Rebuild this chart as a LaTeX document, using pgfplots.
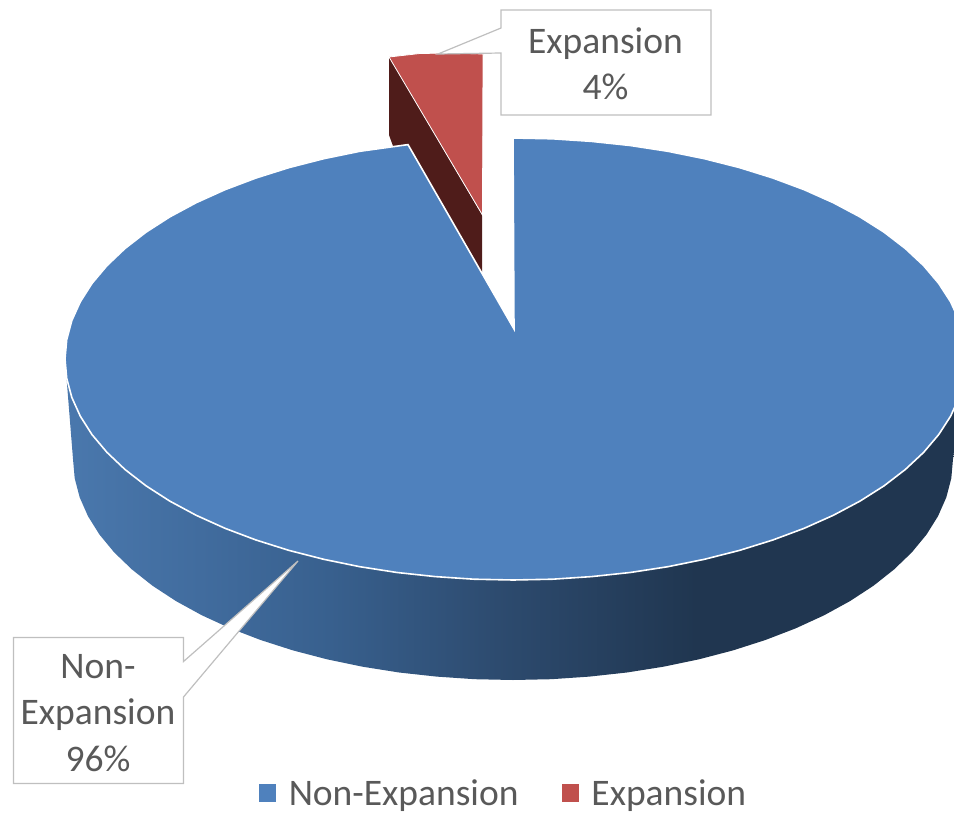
\documentclass[border=0pt]{standalone}
\usepackage{pgfplots}
\pgfplotsset{compat=1.18}
\usepackage{fontspec}
\setmainfont{Carlito}

\definecolor{pieblue}{HTML}{4F81BD}
\definecolor{piered}{HTML}{C0504D}
\definecolor{reddark}{HTML}{4F1C1A}
\definecolor{labelgray}{HTML}{595959}
\definecolor{boxgray}{HTML}{BFBFBF}
\definecolor{sa}{HTML}{4A78AD}
\definecolor{sb}{HTML}{416C9E}
\definecolor{sc}{HTML}{38608E}
\definecolor{sd}{HTML}{2D4B6F}
\definecolor{se}{HTML}{203650}

% side of the pie: 25bp is its left end, 75bp its right end
\pgfdeclarehorizontalshading{pieside}{100bp}{
  color(0bp)=(sa); color(25bp)=(sa); color(32.5bp)=(sb); color(39.7bp)=(sc);
  color(49bp)=(sd); color(60bp)=(se); color(100bp)=(se)}

\newcommand{\lbl}{\fontsize{37.5}{46}\selectfont\color{labelgray}}

\begin{document}
\begin{tikzpicture}
\begin{axis}[
    x=1pt, y=1pt,
    xmin=0, xmax=954, ymin=0, ymax=814,
    y dir=reverse,
    hide axis,
    legend columns=2,
    legend cell align=left,
    legend style={
        at={(axis cs:503.5,793)}, anchor=center,
        draw=none, fill=none,
        font=\fontsize{37.5}{40}\selectfont\color{labelgray},
        /tikz/every odd column/.append style={column sep=11pt},
        /tikz/every even column/.append style={column sep=41pt},
        inner sep=0pt, outer sep=0pt,
    },
    legend image code/.code={
        \fill[#1] (0pt,-8.5pt) rectangle (16.5pt,8.5pt);
    },
]
\path (axis cs:0,0) (axis cs:954,814);

% side of the exploded red slice
\addplot[forget plot, draw=none, fill=reddark] coordinates {
    (389,57) (389,135) (393,146) (482,272) (482,215)
} -- cycle;

% top of the red slice
\addplot[forget plot, draw=white, line width=0.8pt, fill=piered] coordinates {
    (389,57) (420,53.5) (452,53) (483,54) (482.5,215)
} -- cycle;

% side of the blue slice (its upper part lies under the top)
\addplot[forget plot, draw=none, shading=pieside] coordinates {
    (65,359) (73,459) (74.7,478.3) (79.7,497.4) (88,516.2) (99.5,534.6)
    (114.2,552.4) (132,569.5) (152.6,585.8) (176,601.1) (201.9,615.3)
    (230.2,628.3) (260.6,640) (293,650.4) (327,659.3) (362.5,666.7)
    (399.1,672.5) (436.6,676.6) (474.6,679.2) (513,680) (551.4,679.2)
    (589.4,676.6) (626.9,672.5) (663.5,666.7) (699,659.3) (733,650.4)
    (765.4,640) (795.8,628.3) (824.1,615.3) (850,601.1) (873.4,585.8)
    (894,569.5) (911.8,552.4) (926.5,534.6) (938,516.2) (946.3,497.4)
    (951.3,478.3) (953,459) (966,359)
} -- cycle;

% top of the blue slice
\addplot[forget plot, draw=white, line width=1.6pt, fill=pieblue] coordinates {
    (513,138) (552.5,138.8) (591.6,141.4) (630.2,145.5) (667.9,151.3)
    (704.4,158.7) (739.5,167.6) (772.8,178) (804.2,189.7) (833.3,202.7)
    (860,216.9) (884.1,232.2) (905.3,248.5) (923.6,265.6) (938.7,283.4)
    (950.6,301.8) (959.1,320.6) (964.3,339.7) (966,359) (964.3,378.3)
    (959.1,397.4) (950.6,416.2) (938.7,434.6) (923.6,452.4) (905.3,469.5)
    (884.1,485.8) (860,501.1) (833.3,515.3) (804.2,528.3) (772.8,540)
    (739.5,550.4) (704.4,559.3) (667.9,566.7) (630.2,572.5) (591.6,576.6)
    (552.5,579.2) (513,580) (473.9,579.2) (435.2,576.6) (397.1,572.5)
    (359.8,566.7) (323.7,559.3) (289,550.4) (256,540) (225,528.3)
    (196.2,515.3) (169.8,501.1) (146,485.8) (125,469.5) (107,452.4)
    (92,434.6) (80.3,416.2) (71.8,397.4) (66.7,378.3) (65,359)
    (66.7,339.7) (71.8,320.6) (80.3,301.8) (92,283.4) (107,265.6)
    (125,248.5) (146,232.2) (169.8,216.9) (196.2,202.7) (225,189.7)
    (256,178) (289,167.6) (323.7,158.7) (359.8,151.3) (408,144.6)
    (514,329)
} -- cycle;

% callouts
\addplot[forget plot, draw=boxgray, line width=1.2pt, fill=white] coordinates {
    (501,10) (711,10) (711,115) (501,115) (501,53) (438,54) (501,28)
} -- cycle;
\addplot[forget plot, draw=boxgray, line width=1.2pt, fill=white] coordinates {
    (13.5,637.5) (183.5,637.5) (183.5,661.5) (298,561) (183.5,697)
    (183.5,783.5) (13.5,783.5)
} -- cycle;

\node[anchor=base, inner sep=0pt] at (axis cs:605.5,53) {\lbl Expansion};
\node[anchor=base, inner sep=0pt] at (axis cs:605.5,99) {\lbl 4\%};
\node[anchor=base, inner sep=0pt] at (axis cs:98,678) {\lbl Non-};
\node[anchor=base, inner sep=0pt] at (axis cs:98,724) {\lbl Expansion};
\node[anchor=base, inner sep=0pt] at (axis cs:98,771) {\lbl 96\%};

\addlegendimage{pieblue}
\addlegendentry{Non-Expansion}
\addlegendimage{piered}
\addlegendentry{Expansion}
\end{axis}
\end{tikzpicture}
\end{document}
